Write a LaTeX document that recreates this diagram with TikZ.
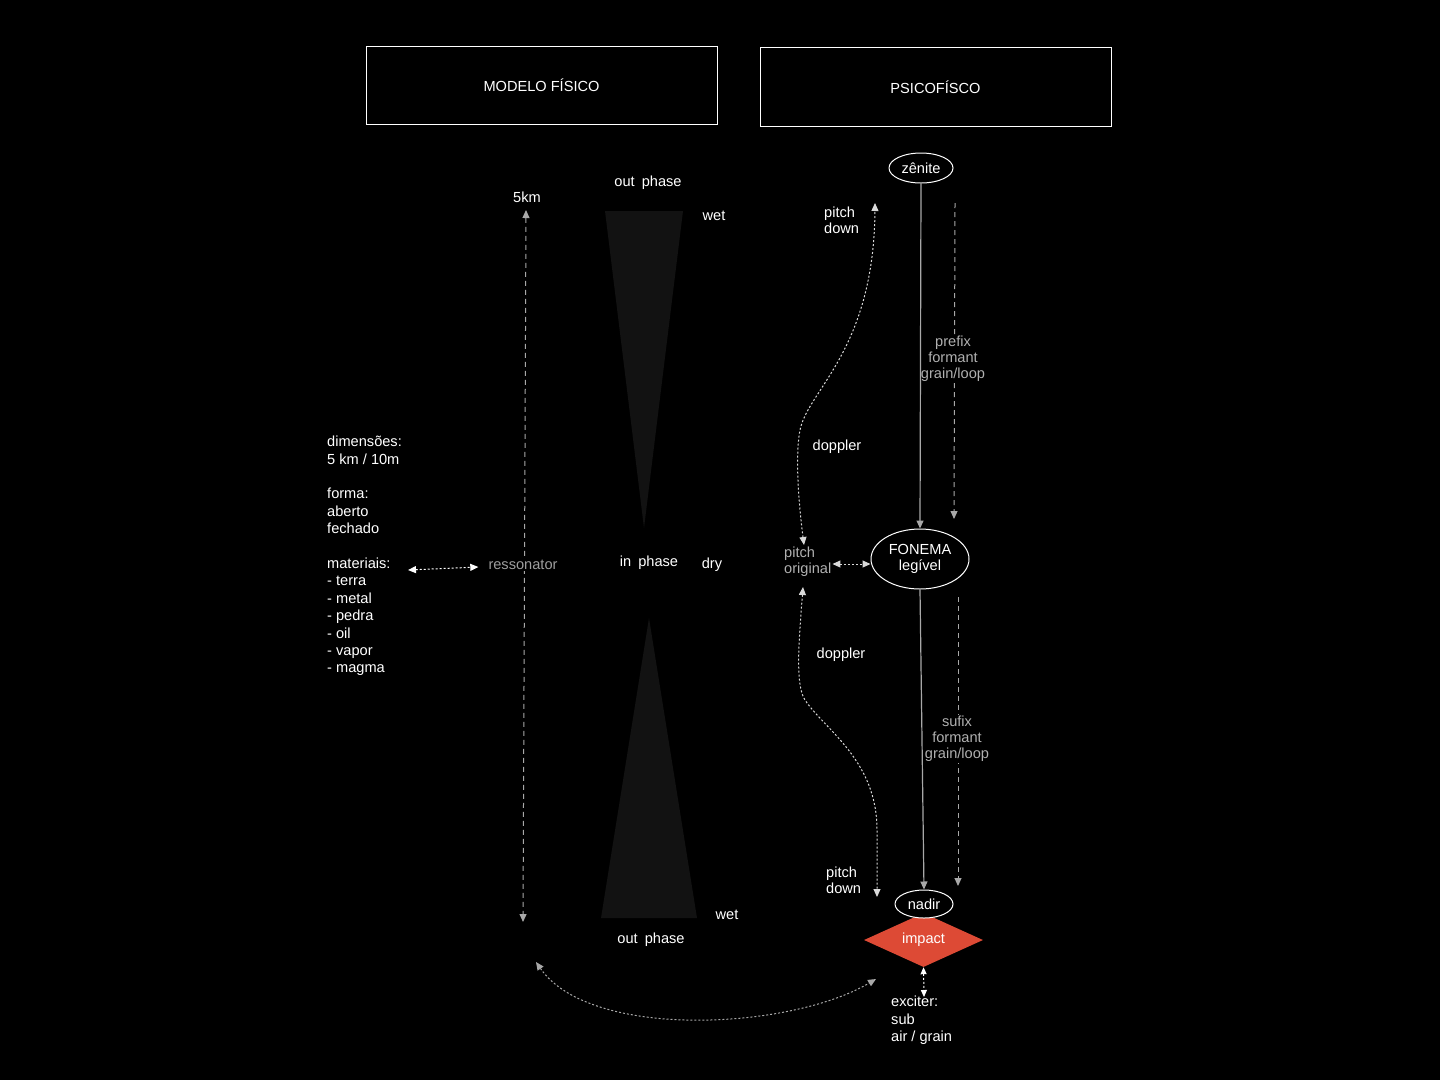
\documentclass[tikz,border=0pt]{standalone}
\usepackage{fontspec}
\setmainfont{Liberation Sans}
\usetikzlibrary{shapes.geometric,arrows.meta}
\definecolor{linegray}{HTML}{A8A8A8}
\definecolor{txtgray}{HTML}{B0B0B0}
\definecolor{glassgray}{HTML}{121212}
\definecolor{impactred}{HTML}{DD4A35}
\begin{document}
\begin{tikzpicture}[x=1pt,y=-1pt,
  >={Triangle[length=8pt,width=7pt]},
  every node/.style={font=\fontsize{14.6}{16}\selectfont, text=white},
  titlebox/.style={draw=white, fill=black, line width=1pt, minimum width=351pt, minimum height=78pt, inner sep=0pt},
  ovalnode/.style={ellipse, draw=white, fill=black, line width=1pt, inner sep=0pt},
  plain/.style={align=left, inner sep=0pt},
  widelines/.style={font=\fontsize{14.6}{17.4}\selectfont},
  graylbl/.style={text=txtgray, align=center, inner sep=1pt, fill=black},
  solidlink/.style={draw=linegray, line width=1.2pt, ->},
  dashlink/.style={draw=linegray, line width=1pt, dash pattern=on 5pt off 4pt},
  dotlink/.style={draw=linegray, line width=1pt, dash pattern=on 2pt off 2pt, <->},
  whitedot/.style={draw=white, line width=1pt, dash pattern=on 2pt off 2pt, <->},
  glass/.style={fill=glassgray},
]
% background
\fill[black] (0,0) rectangle (1440,1080);
\useasboundingbox (0,0) rectangle (1440,1080);

% hourglass
\fill[glass] (605,211) -- (683,211) -- (644,528) -- cycle;
\fill[glass] (649,618) -- (697,918) -- (601,918) -- cycle;

% title boxes
\node[titlebox] (modelo) at (541.5,85.5) {MODELO FÍSICO};
\node[titlebox, minimum height=79pt] (psico) at (935.5,87) {PSICOFÍSCO};

% hourglass labels
\node (outtop) at (648,183) {out\hspace{3pt} phase};
\node (wettop) at (714,216) {wet};
\node (inph) at (649,563) {in\hspace{3pt} phase};
\node (dry) at (712,565) {dry};
\node (wetbot) at (727,915) {wet};
\node (outbot) at (651,940) {out\hspace{3pt} phase};

% left column
\node (km5) at (527,197) {5km};
\node[plain, widelines, anchor=north west] (lefttext) at (327,436)
  {dimensões:\\5 km / 10m\\[17.4pt]forma:\\aberto\\fechado\\[17.4pt]materiais:\\- terra\\- metal\\- pedra\\- oil\\- vapor\\- magma};
\coordinate (lineTop) at (526,210);
\coordinate (lineBot) at (523,922);
\coordinate (matArrow) at (408,570);
\draw[dashlink, <->] (lineTop) -- (lineBot);
\node[graylbl, text=txtgray!90!black] (resso) at (523,565) {ressonator};
\draw[whitedot] (matArrow) -- ([xshift=-9pt,yshift=-2pt]resso.west);

% right column nodes
\node[ovalnode, minimum width=64pt, minimum height=30pt] (zenite) at (921,168) {zênite};
\node[ovalnode, minimum width=98pt, minimum height=60pt, align=center] (fonema) at (920,559) {FONEMA\\legível};
\node[diamond, fill=impactred, minimum width=119pt, minimum height=54pt, aspect=2.2, inner sep=0pt] (impact) at (923.5,940) {impact};
\node[ovalnode, minimum width=58pt, minimum height=28pt] (nadir) at (924,904) {nadir};

\node[plain, anchor=west] (pdtop) at (824,220) {pitch\\down};
\node[plain, anchor=west] (pdbot) at (826,880) {pitch\\down};
\node[plain, anchor=west, text=txtgray] (porig) at (784,562) {pitch\\original};
\node (dop1) at (837,447) {doppler};
\node (dop2) at (841,655) {doppler};
\node[plain, widelines, anchor=north west] (exciter) at (891,996) {exciter:\\sub\\air / grain};

% dashed formant links with labels
\coordinate (preTop) at (955,203);
\coordinate (preBot) at (954,519);
\coordinate (sufTop) at (958,597);
\coordinate (sufBot) at (958,886);
\draw[dashlink, ->] (preTop) -- (preBot);
\node[graylbl] (prefix) at (953,359) {prefix\\formant\\grain/loop};
\draw[dashlink, ->] (sufTop) -- (sufBot);
\node[graylbl] (sufix) at (957,739) {sufix\\formant\\grain/loop};

% main vertical links
\draw[solidlink] (zenite.south) -- (fonema.north);
\draw[solidlink] (fonema.south) -- (nadir.north);

% doppler curves
\coordinate (dopTopEnd) at (875,203);
\coordinate (origTop) at (804,545);
\coordinate (origBot) at (803,587);
\coordinate (dopBotEnd) at (877,897);
\draw[dotlink, draw=white!85!black] (origTop) .. controls (797,490) and (796,450) .. (800,430)
   .. controls (808,390) and (874,350) .. (dopTopEnd);
\draw[dotlink, draw=white!85!black] (origBot) .. controls (799,640) and (795,685) .. (805,700)
   .. controls (825,730) and (877,760) .. (877,830) -- (dopBotEnd);

% pitch original <-> fonema
\draw[whitedot, draw=white!85!black] ([xshift=1pt,yshift=-2pt]porig.east) -- ([yshift=-5pt]fonema.west);

% impact <-> exciter
\draw[whitedot, >={Triangle[length=7pt,width=6pt]}] (impact.south) -- ([xshift=33pt,yshift=-1pt]exciter.north west);

% bottom arc
\coordinate (arcLeft) at (536,962);
\coordinate (arcRight) at (876,979);
\draw[dotlink] (arcLeft) .. controls (590,1040) and (790,1030) .. (arcRight);
\end{tikzpicture}
\end{document}
